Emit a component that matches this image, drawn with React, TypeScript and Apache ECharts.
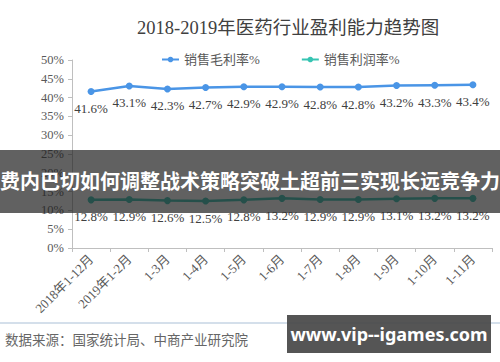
import React, { useEffect, useRef } from "react";
import * as echarts from "echarts";

const categories = [
  "2018年1-12月",
  "2019年1-2月",
  "1-3月",
  "1-4月",
  "1-5月",
  "1-6月",
  "1-7月",
  "1-8月",
  "1-9月",
  "1-10月",
  "1-11月",
];
const grossMargin = [41.6, 43.1, 42.3, 42.7, 42.9, 42.9, 42.8, 42.8, 43.2, 43.3, 43.4];
const profitMargin = [12.8, 12.9, 12.6, 12.5, 12.8, 13.2, 12.9, 12.9, 13.1, 13.2, 13.2];
const seriesNames = ["销售毛利率%", "销售利润率%"];
const titleText = "2018-2019年医药行业盈利能力趋势图";
const sourceText = "数据来源：国家统计局、中商产业研究院";
const bannerText = "费内巴切如何调整战术策略突破土超前三实现长远竞争力";
const badgeText = "www.vip--igames.com";

const SERIF = "'Liberation Serif', 'DejaVu Serif', 'Noto Sans CJK SC', serif";
const SANS = "'Noto Sans', 'Noto Sans CJK SC', sans-serif";

export default function App() {
  const ref = useRef<HTMLDivElement>(null);
  useEffect(() => {
    if (!ref.current) return;
    const chart = echarts.init(ref.current, null, { renderer: "svg" });
    const labelStyle = {
      show: true,
      position: "bottom" as const,
      distance: 7,
      fontFamily: SERIF,
      fontSize: 13,
      color: "#404040",
      formatter: (p: any) => p.value.toFixed(1) + "%",
    };
    chart.setOption({
      animation: false,
      backgroundColor: "#ffffff",
      title: {
        text: titleText,
        left: 132,
        top: 14,
        textStyle: { fontFamily: SERIF, fontSize: 18.5, fontWeight: "normal", color: "#404040" },
      },
      legend: {
        left: 156,
        top: 48,
        itemWidth: 17,
        itemHeight: 7,
        itemGap: 41,
        textStyle: { fontFamily: SERIF, fontSize: 13, color: "#595959" },
        data: seriesNames,
      },
      grid: { left: 72, right: 8, top: 60, bottom: 114 },
      xAxis: {
        type: "category",
        data: categories,
        boundaryGap: true,
        axisLine: { lineStyle: { color: "#bfbfbf" } },
        axisTick: { show: true, length: 4, lineStyle: { color: "#bfbfbf" } },
        axisLabel: {
          rotate: 45,
          interval: 0,
          margin: 9,
          fontFamily: SERIF,
          fontSize: 13,
          color: "#595959",
        },
      },
      yAxis: {
        type: "value",
        min: 0,
        max: 50,
        interval: 5,
        axisLine: { show: true, lineStyle: { color: "#bfbfbf" } },
        axisTick: { show: true, length: 4, lineStyle: { color: "#bfbfbf" } },
        splitLine: { show: false },
        axisLabel: {
          formatter: "{value}%",
          fontFamily: SERIF,
          fontSize: 12.5,
          color: "#595959",
          margin: 8,
        },
      },
      series: [
        {
          name: seriesNames[0],
          type: "line",
          data: grossMargin,
          symbol: "circle",
          symbolSize: 7,
          itemStyle: { color: "#4a95e6" },
          lineStyle: { width: 2.5, color: "#4a95e6" },
          label: labelStyle,
        },
        {
          name: seriesNames[1],
          type: "line",
          data: profitMargin,
          symbol: "circle",
          symbolSize: 7,
          itemStyle: { color: "#36c4b2" },
          lineStyle: { width: 2.5, color: "#36c4b2" },
          label: labelStyle,
        },
      ],
      graphic: [
        {
          type: "line",
          shape: { x1: 0, y1: 323, x2: 500, y2: 323 },
          style: { stroke: "#a9bfd6", lineWidth: 1 },
        },
        {
          type: "text",
          left: 5,
          top: 334,
          style: { text: sourceText, fontFamily: SERIF, fontSize: 13.5, fill: "#666666" },
        },
        {
          type: "rect",
          shape: { x: 0, y: 150, width: 500, height: 63 },
          style: { fill: "rgba(30,30,30,0.7)" },
          z: 100,
        },
        {
          type: "text",
          x: 250,
          y: 181.5,
          z: 101,
          style: {
            text: bannerText,
            fontFamily: SANS,
            fontSize: 20,
            fontWeight: "bold",
            fill: "#ffffff",
            align: "center",
            verticalAlign: "middle",
          },
        },
        {
          type: "rect",
          shape: { x: 287, y: 315, width: 204, height: 38 },
          style: { fill: "rgba(70,70,70,0.92)" },
          z: 100,
        },
        {
          type: "text",
          x: 389,
          y: 334,
          z: 101,
          style: {
            text: badgeText,
            fontFamily: SANS,
            fontSize: 18,
            fontWeight: "bold",
            fill: "#ffffff",
            align: "center",
            verticalAlign: "middle",
          },
        },
      ],
    });
    return () => chart.dispose();
  }, []);
  return (
    <div
      ref={ref}
      style={{ position: "fixed", left: 0, top: 0, width: 500, height: 362, background: "#fff" }}
    />
  );
}
